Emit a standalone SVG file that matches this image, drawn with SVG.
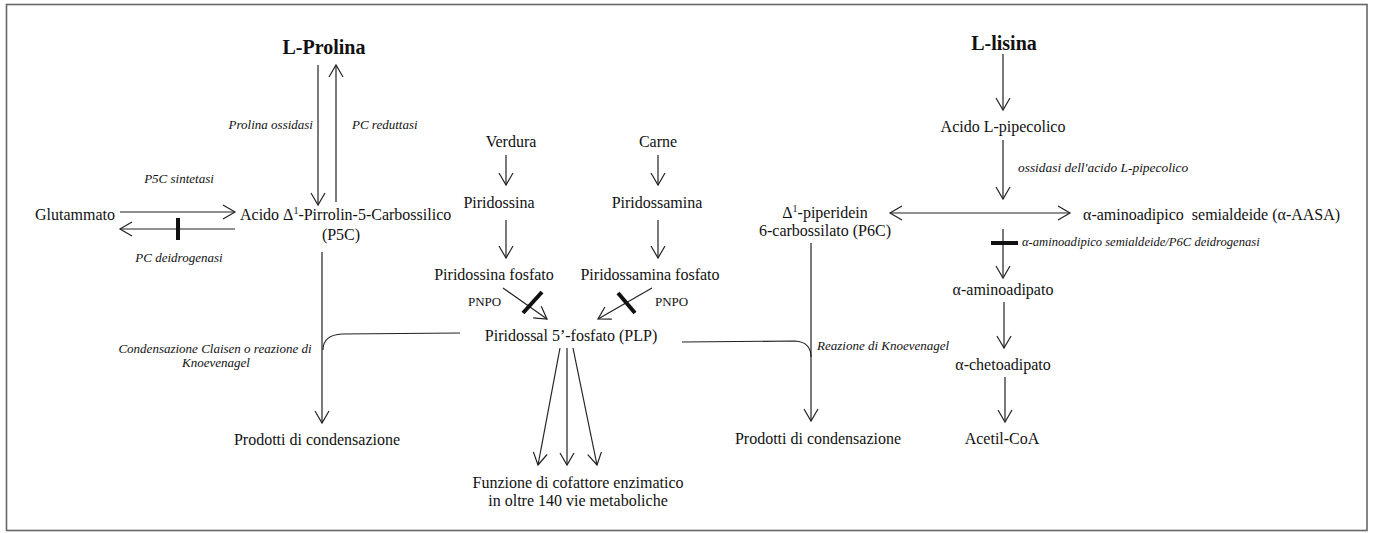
<svg xmlns="http://www.w3.org/2000/svg" width="1373" height="533" viewBox="0 0 1373 533">
<style>
text{font-family:"Liberation Serif","Times New Roman",serif;fill:#111}
.n{font-size:16px}
.b{font-size:20px;font-weight:bold}
.i{font-size:13px;font-style:italic}
.s{font-size:12.6px;font-style:italic}
.p{font-size:13px}
.m{text-anchor:middle}
.e{text-anchor:end}
.ln{fill:none;stroke:#222;stroke-width:1.2}
.a{marker-end:url(#arr)}
.bar{stroke:#111;stroke-width:4;fill:none}
</style>
<defs>
<marker id="arr" viewBox="-14 -9 16 18" refX="0" refY="0" markerWidth="16" markerHeight="18" markerUnits="userSpaceOnUse" orient="auto-start-reverse">
<path d="M-12,-7 L0,0 L-12,7" fill="none" stroke="#222" stroke-width="1.2"/>
</marker>
</defs>
<rect x="6.5" y="4.5" width="1360.5" height="526" fill="#fff" stroke="#666" stroke-width="1.6"/>

<g id="connectors">
<line class="ln a" x1="318" y1="65" x2="318" y2="205"/>
<line class="ln a" x1="336" y1="202" x2="336" y2="65"/>
<line class="ln a" x1="120" y1="212" x2="235" y2="212"/>
<line class="ln a" x1="235" y1="229" x2="120" y2="229"/>
<line class="bar" x1="178" y1="218" x2="178" y2="240"/>
<line class="ln a" x1="322" y1="252" x2="322" y2="423"/>
<path class="ln" d="M460,333 L342,334 Q323,335 323,350"/>
<line class="ln a" x1="506" y1="155" x2="506" y2="185"/>
<line class="ln a" x1="506" y1="220" x2="506" y2="258"/>
<line class="ln a" x1="658" y1="155" x2="658" y2="185"/>
<line class="ln a" x1="658" y1="220" x2="658" y2="258"/>
<line class="ln a" x1="503" y1="288" x2="547" y2="319"/>
<line class="bar" x1="523" y1="313" x2="542" y2="292"/>
<line class="ln a" x1="652" y1="288" x2="598" y2="319"/>
<line class="bar" x1="618" y1="293" x2="635" y2="313"/>
<line class="ln a" x1="560" y1="348" x2="538" y2="465"/>
<line class="ln a" x1="567" y1="348" x2="567" y2="465"/>
<line class="ln a" x1="573" y1="348" x2="597" y2="465"/>
<path class="ln" d="M682,342 L795,341 Q811,342 811,357"/>
<line class="ln a" x1="811" y1="243" x2="811" y2="421"/>
<line class="ln a" x1="1003" y1="54" x2="1003" y2="110"/>
<line class="ln a" x1="1003" y1="140" x2="1003" y2="199"/>
<line class="ln a" x1="890" y1="213" x2="1070" y2="213" marker-start="url(#arr)"/>
<line class="ln a" x1="1003" y1="229" x2="1003" y2="278"/>
<line class="bar" x1="991" y1="243" x2="1018" y2="243"/>
<line class="ln a" x1="1004" y1="302" x2="1004" y2="348"/>
<line class="ln a" x1="1005" y1="377" x2="1005" y2="422"/>
</g>

<g id="labels">
<text class="i e" x="313" y="129">Prolina ossidasi</text>
<text class="i" x="352" y="129">PC reduttasi</text>
<text class="i m" x="179" y="183">P5C sintetasi</text>
<text class="i m" x="179" y="262">PC deidrogenasi</text>
<text class="i m" x="215" y="353">Condensazione Claisen o reazione di</text>
<text class="i m" x="216" y="367">Knoevenagel</text>
<text class="p" x="468" y="306">PNPO</text>
<text class="p" x="655" y="306">PNPO</text>
<text class="i" x="817" y="350">Reazione di Knoevenagel</text>
<text class="i" x="1018" y="172" style="font-size:13.4px">ossidasi dell'acido L-pipecolico</text>
<text class="s" x="1022" y="246">α-aminoadipico semialdeide/P6C deidrogenasi</text>
</g>

<g id="n-prolina"><text class="b m" x="324" y="54">L-Prolina</text></g>
<g id="n-glutammato"><text class="n" x="35" y="220">Glutammato</text></g>
<g id="n-p5c">
<text class="n" x="240" y="220">Acido Δ<tspan font-size="10" dy="-6">1</tspan><tspan dy="6">-Pirrolin-5-Carbossilico</tspan></text>
<text class="n m" x="341" y="240">(P5C)</text>
</g>
<g id="n-prodotti1"><text class="n m" x="317" y="445">Prodotti di condensazione</text></g>
<g id="n-verdura"><text class="n m" x="511" y="147">Verdura</text></g>
<g id="n-piridossina"><text class="n m" x="499" y="208">Piridossina</text></g>
<g id="n-piridossinaf"><text class="n m" x="494" y="280">Piridossina fosfato</text></g>
<g id="n-carne"><text class="n m" x="658" y="147">Carne</text></g>
<g id="n-piridossamina"><text class="n m" x="657" y="208">Piridossamina</text></g>
<g id="n-piridossaminaf"><text class="n m" x="650" y="280">Piridossamina fosfato</text></g>
<g id="n-plp"><text class="n m" x="571" y="341">Piridossal 5’-fosfato (PLP)</text></g>
<g id="n-funzione">
<text class="n m" x="578" y="488">Funzione di cofattore enzimatico</text>
<text class="n m" x="578" y="506">in oltre 140 vie metaboliche</text>
</g>
<g id="n-lisina"><text class="b m" x="1004" y="50">L-lisina</text></g>
<g id="n-pipecolico"><text class="n m" x="1003" y="132">Acido L-pipecolico</text></g>
<g id="n-p6c">
<text class="n m" x="825" y="218">Δ<tspan font-size="10" dy="-6">1</tspan><tspan dy="6">-piperidein</tspan></text>
<text class="n m" x="825" y="236">6-carbossilato (P6C)</text>
</g>
<g id="n-aasa"><text class="n" x="1083" y="220" xml:space="preserve" style="white-space:pre">α-aminoadipico  semialdeide (α-AASA)</text></g>
<g id="n-prodotti2"><text class="n m" x="818" y="444">Prodotti di condensazione</text></g>
<g id="n-aminoadipato"><text class="n m" x="1003" y="295">α-aminoadipato</text></g>
<g id="n-chetoadipato"><text class="n m" x="1003" y="370">α-chetoadipato</text></g>
<g id="n-acetilcoa"><text class="n m" x="1002" y="444">Acetil-CoA</text></g>
</svg>
